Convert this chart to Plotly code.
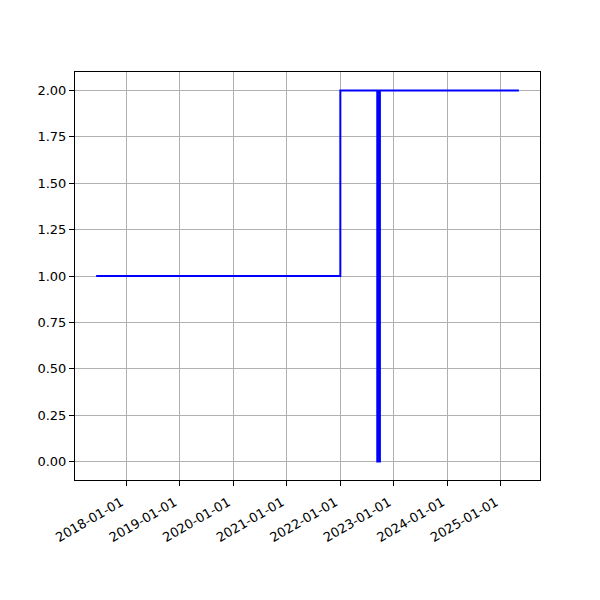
import plotly.graph_objects as go
import pandas as pd

# Step series (post-step): date -> value
dates = [
    "2017-06-10", "2022-01-01",
    "2022-09-10", "2022-09-12", "2022-09-14", "2022-09-16", "2022-09-18",
    "2022-09-20", "2022-09-22", "2022-09-24", "2022-09-26", "2022-09-28",
    "2022-09-30",
    "2025-05-03",
]
values = [
    1, 2,
    0, 2, 0, 2, 0,
    2, 0, 2, 0, 2,
    2,
    2,
]
x_tick_labels = ["2018-01-01", "2019-01-01", "2020-01-01", "2021-01-01",
                 "2022-01-01", "2023-01-01", "2024-01-01", "2025-01-01"]
y_ticks = [0.0, 0.25, 0.5, 0.75, 1.0, 1.25, 1.5, 1.75, 2.0]

dt = pd.to_datetime(dates)
span = dt.max() - dt.min()
xr = [dt.min() - span * 0.05, dt.max() + span * 0.05]
vspan = max(values) - min(values)
yr = [min(values) - vspan * 0.05, max(values) + vspan * 0.05]

fig = go.Figure()
fig.add_trace(go.Scatter(
    x=dt, y=values, mode="lines",
    line=dict(color="#0000ff", width=2, shape="hv"),
    showlegend=False,
))

font = dict(family="DejaVu Sans", size=13, color="black")
axis_common = dict(
    showgrid=True, gridcolor="#b0b0b0", gridwidth=1,
    showline=True, linecolor="black", linewidth=1, mirror=True,
    ticks="outside", ticklen=5, tickwidth=1, tickcolor="black",
    zeroline=False, tickfont=font, automargin=False,
)
fig.update_xaxes(
    range=xr, tickvals=pd.to_datetime(x_tick_labels), ticktext=x_tick_labels,
    tickangle=-30, ticklabelshift=-5, ticklabelstandoff=4, **axis_common,
)
fig.update_yaxes(
    range=yr, tickvals=y_ticks, tickformat=".2f", **axis_common,
)
fig.update_layout(
    width=600, height=600,
    margin=dict(l=67, r=68, t=64, b=128),
    plot_bgcolor="white", paper_bgcolor="white",
    font=font,
)
fig.write_html("out.html")
